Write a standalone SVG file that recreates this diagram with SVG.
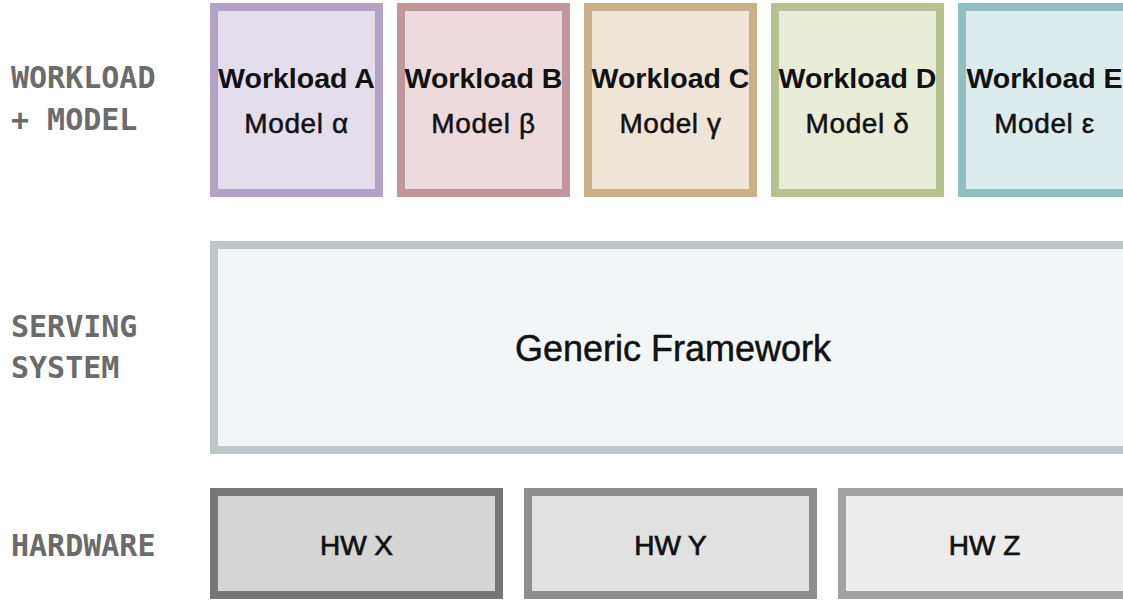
<svg xmlns="http://www.w3.org/2000/svg" width="1123" height="601" viewBox="0 0 1123 601">
  <style>
    .layer { font-family: "DejaVu Sans Mono", "Liberation Mono", monospace; font-weight: bold; font-size: 30px; fill: #6b6b6b; }
    .box { stroke-width: 8; }
    .title { font-family: "Liberation Sans", Arial, sans-serif; font-weight: bold; font-size: 28.5px; fill: #111; text-anchor: middle; }
    .sub { font-family: "Liberation Sans", Arial, sans-serif; font-size: 28px; letter-spacing: 0.6px; fill: #111; stroke: #111; stroke-width: 0.5; text-anchor: middle; }
    .big { font-family: "Liberation Sans", Arial, sans-serif; font-size: 36px; fill: #111; stroke: #111; stroke-width: 0.5; text-anchor: middle; }
    .hw { font-family: "Liberation Sans", Arial, sans-serif; font-size: 28px; fill: #111; stroke: #111; stroke-width: 0.7; text-anchor: middle; }
  </style>
  <rect width="1123" height="601" fill="#ffffff"/>

  <!-- layer captions -->
  <g id="captions">
    <text class="layer" x="11" y="88">WORKLOAD</text>
    <text class="layer" x="11" y="130">+ MODEL</text>
    <text class="layer" x="11" y="337">SERVING</text>
    <text class="layer" x="11" y="378">SYSTEM</text>
    <text class="layer" x="11" y="556">HARDWARE</text>
  </g>

  <!-- workload + model row -->
  <g id="workload-a">
    <rect class="box" x="214" y="7" width="165" height="186" fill="#e3ddec" stroke="#b2a2c8"/>
    <text class="title" x="296.5" y="88">Workload A</text>
    <text class="sub" x="296.5" y="133">Model α</text>
  </g>
  <g id="workload-b">
    <rect class="box" x="401" y="7" width="165" height="186" fill="#ecdadc" stroke="#c2969d"/>
    <text class="title" x="483.5" y="88">Workload B</text>
    <text class="sub" x="483.5" y="133">Model β</text>
  </g>
  <g id="workload-c">
    <rect class="box" x="588" y="7" width="165" height="186" fill="#efe5d6" stroke="#c8b08b"/>
    <text class="title" x="670.5" y="88">Workload C</text>
    <text class="sub" x="670.5" y="133">Model γ</text>
  </g>
  <g id="workload-d">
    <rect class="box" x="775" y="7" width="165" height="186" fill="#e9edd8" stroke="#b7c290"/>
    <text class="title" x="857.5" y="88">Workload D</text>
    <text class="sub" x="857.5" y="133">Model δ</text>
  </g>
  <g id="workload-e">
    <rect class="box" x="962" y="7" width="165" height="186" fill="#dcebeb" stroke="#90bfbf"/>
    <text class="title" x="1044.5" y="88">Workload E</text>
    <text class="sub" x="1044.5" y="133">Model ε</text>
  </g>

  <!-- serving system -->
  <g id="generic-framework">
    <rect class="box" x="214" y="245" width="913" height="205" fill="#f2f6f7" stroke="#bdc7ca"/>
    <text class="big" x="673" y="361">Generic Framework</text>
  </g>

  <!-- hardware row -->
  <g id="hw-x">
    <rect class="box" x="214" y="492" width="285" height="103" fill="#d5d5d5" stroke="#777777"/>
    <text class="hw" x="356.5" y="555">HW X</text>
  </g>
  <g id="hw-y">
    <rect class="box" x="528" y="492" width="285" height="103" fill="#e1e1e1" stroke="#8e8e8e"/>
    <text class="hw" x="670.5" y="555">HW Y</text>
  </g>
  <g id="hw-z">
    <rect class="box" x="842" y="492" width="285" height="103" fill="#ececec" stroke="#a2a2a2"/>
    <text class="hw" x="984.5" y="555">HW Z</text>
  </g>
</svg>
